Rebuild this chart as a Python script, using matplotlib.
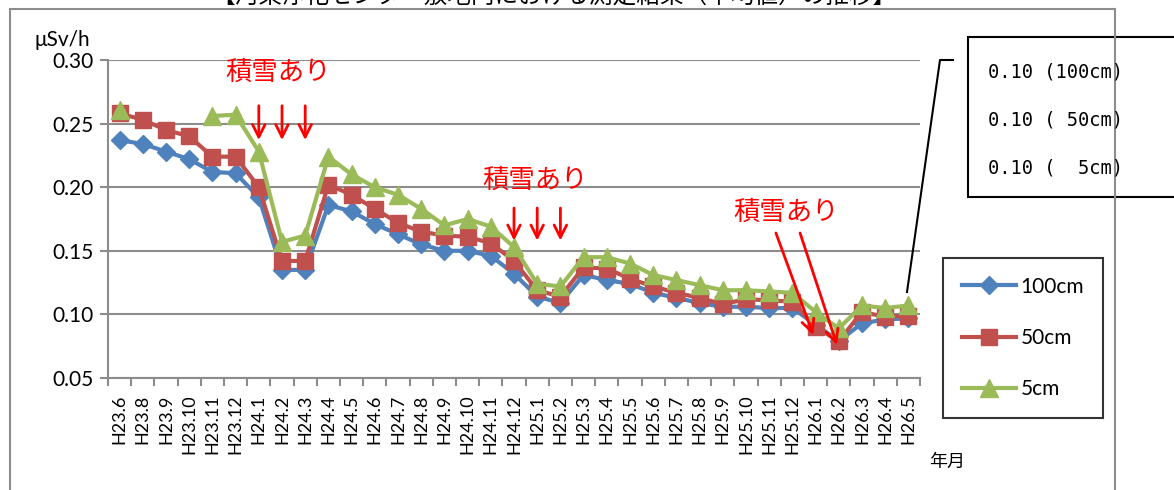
import numpy as np
import matplotlib
matplotlib.use("Agg")
import matplotlib.pyplot as plt
from matplotlib.lines import Line2D
from matplotlib.patches import Rectangle

plt.rcParams['font.family'] = ['Lato', 'Noto Sans CJK JP', 'DejaVu Sans']

# ---------------------------
# Datos
# ---------------------------
months = ['H23.6', 'H23.8', 'H23.9', 'H23.10', 'H23.11', 'H23.12',
          'H24.1', 'H24.2', 'H24.3', 'H24.4', 'H24.5', 'H24.6', 'H24.7',
          'H24.8', 'H24.9', 'H24.10', 'H24.11', 'H24.12',
          'H25.1', 'H25.2', 'H25.3', 'H25.4', 'H25.5', 'H25.6', 'H25.7',
          'H25.8', 'H25.9', 'H25.10', 'H25.11', 'H25.12',
          'H26.1', 'H26.2', 'H26.3', 'H26.4', 'H26.5']

cm100 = [0.237, 0.234, 0.228, 0.222, 0.212, 0.211, 0.192, 0.135, 0.135, 0.186,
         0.181, 0.171, 0.163, 0.155, 0.150, 0.150, 0.146, 0.132, 0.114, 0.109,
         0.131, 0.127, 0.124, 0.117, 0.113, 0.109, 0.106, 0.106, 0.105, 0.105,
         0.092, 0.079, 0.093, 0.096, 0.097]

cm50 = [0.258, 0.253, 0.245, 0.240, 0.224, 0.224, 0.200, 0.142, 0.142, 0.202,
        0.194, 0.183, 0.172, 0.165, 0.162, 0.161, 0.156, 0.142, 0.119, 0.114,
        0.137, 0.136, 0.128, 0.122, 0.117, 0.113, 0.108, 0.112, 0.111, 0.110,
        0.090, 0.079, 0.102, 0.098, 0.099]

cm5 = [0.261, np.nan, np.nan, np.nan, 0.256, 0.257, 0.228, 0.157, 0.162, 0.224,
       0.210, 0.200, 0.194, 0.183, 0.170, 0.175, 0.169, 0.153, 0.124, 0.122,
       0.145, 0.145, 0.140, 0.131, 0.127, 0.123, 0.119, 0.119, 0.118, 0.117,
       0.102, 0.089, 0.107, 0.105, 0.107]

latest_text = ['0.10 (100cm)', '0.10 ( 50cm)', '0.10 (  5cm)']

# 積雪 anotaciones (x en categorias, y en µSv/h)
snow_labels = [(6.83, 0.2905), (17.9, 0.2057), (28.72, 0.1805)]
snow_arrows = [((6, 0.264), (6, 0.237)), ((7, 0.264), (7, 0.237)), ((8, 0.264), (8, 0.237)),
               ((17, 0.1836), (17, 0.158)), ((18, 0.1836), (18, 0.158)), ((19, 0.1836), (19, 0.158)),
               ((28.29, 0.164), (29.9, 0.0838)), ((29.33, 0.164), (30.92, 0.076))]

BLUE = '#4F81BD'
RED = '#C0504D'
GREEN = '#9BBB59'
GRID = '#8c8c8c'

# ---------------------------
# Figura
# ---------------------------
W, H = 1174, 490
fig = plt.figure(figsize=(W / 100, H / 100), dpi=100)
ax = fig.add_axes([108 / W, 1 - 378 / H, 812 / W, 318 / H])

x = np.arange(len(months))
ax.plot(x, cm100, color=BLUE, lw=3, marker='D', ms=9, label='100cm')
ax.plot(x, cm50, color=RED, lw=3, marker='s', ms=12, label='50cm')
ax.plot(x, cm5, color=GREEN, lw=3, marker='^', ms=13, label='5cm')

ax.set_xlim(-0.5, len(months) - 0.5)
ax.set_ylim(0.05, 0.30)
yt = np.arange(0.05, 0.301, 0.05)
ax.set_yticks(yt)
ax.set_yticklabels([f'{v:.2f}' for v in yt], fontsize=15)
ax.yaxis.grid(True, color=GRID, lw=1.5)
ax.set_axisbelow(True)

ax.set_xticks(x)
ax.set_xticklabels(months, rotation=90, fontsize=13)
ax.set_xticks(np.arange(-0.5, len(months)), minor=True)
ax.tick_params(axis='x', which='major', length=0, pad=12)
ax.tick_params(axis='x', which='minor', length=6, color=GRID, width=1.5)
ax.tick_params(axis='y', length=6, color=GRID, width=1.5, pad=4)

for s in ['top', 'right']:
    ax.spines[s].set_visible(False)
for s in ['left', 'bottom']:
    ax.spines[s].set_color(GRID)
    ax.spines[s].set_linewidth(1.5)

# 積雪あり
for (tx, ty) in snow_labels:
    ax.text(tx, ty, '積雪あり', color='red', fontsize=19, ha='center', va='center',
            family=['Noto Sans CJK JP'])
for (p0, p1) in snow_arrows:
    ax.annotate('', xy=p1, xytext=p0,
                arrowprops=dict(arrowstyle='->,head_length=0.9,head_width=0.45',
                                color='red', lw=2, shrinkA=0, shrinkB=0))

# textos
fig.text(35 / W, 1 - 40 / H, 'μSv/h', fontsize=15, va='center', ha='left')
fig.text(947 / W, 1 - 462 / H, '年月', fontsize=13, ha='center', va='center',
         family=['Noto Sans CJK JP'])
# titulo, cortado en el borde superior como en el original
fig.text(554 / W, 1 - 3 / H,
         '【河東浄化センター敷地内における測定結果（平均値）の推移】',
         fontsize=17, ha='center', va='baseline', family=['Noto Sans CJK JP'])

# marco exterior
for xs, ys in [([10, 1115], [9, 9]), ([1115, 1115], [9, 490]), ([10, 10], [9, 490])]:
    fig.add_artist(Line2D([v / W for v in xs], [1 - v / H for v in ys],
                          color=GRID, lw=1.5))

# recuadro ultimo valor
fig.add_artist(Rectangle((968 / W, 1 - 197 / H), 220 / W, 160 / H,
                         facecolor='white', edgecolor='black', lw=1.5,
                         transform=fig.transFigure))
for i, t in enumerate(latest_text):
    fig.text(988 / W, 1 - (72 + 48 * i) / H, t, fontsize=13.5, va='center',
             family=['DejaVu Sans Mono'])
fig.add_artist(Line2D([953 / W, 940 / W, 907 / W], [1 - 60 / H, 1 - 60 / H, 1 - 292 / H],
                      color='black', lw=1.5))

leg = fig.legend(loc='center', bbox_to_anchor=(1023 / W, 1 - 338 / H), fontsize=15,
                 frameon=True, fancybox=False, labelspacing=1.5, handlelength=2.6,
                 borderpad=0.9, handletextpad=0.2, borderaxespad=0)
leg.get_frame().set_edgecolor('black')
leg.get_frame().set_linewidth(1.5)

fig.savefig('out.png', dpi=100)
